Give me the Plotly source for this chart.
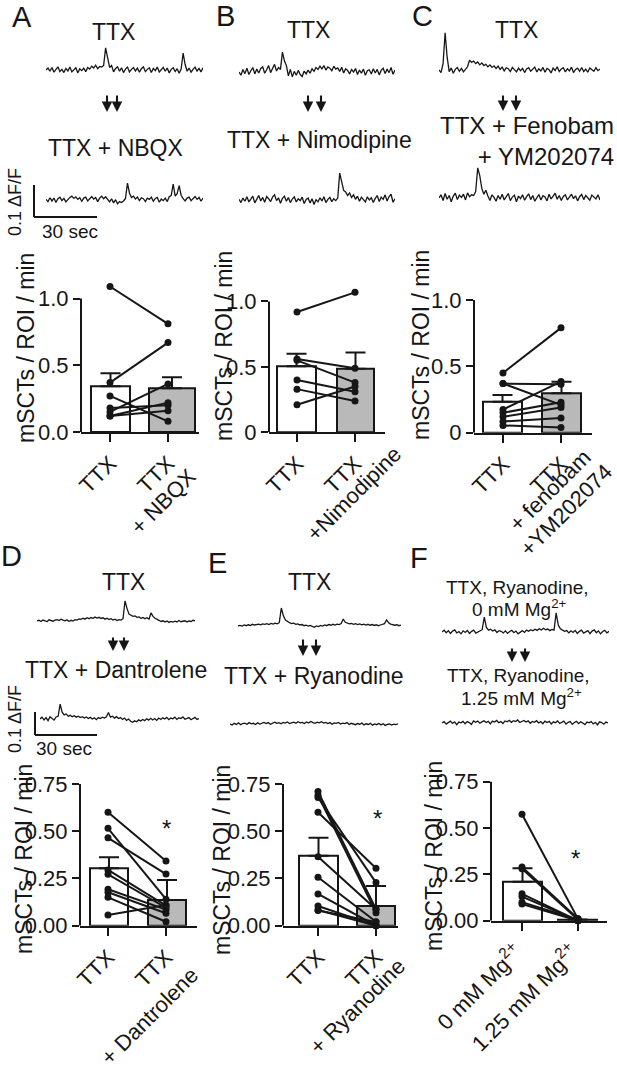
import plotly.graph_objects as go

W, H = 617, 1070
FONT = "Liberation Sans, Arial, Helvetica, sans-serif"
INK = "#161616"
GRAY = "#b9b9b9"

# ====================== DATA ======================
# Representative Ca2+ traces, dF/F x 1000, one value per sample
trace_A_ttx = [0, 6, -4, 8, -7, 3, 10, -5, 2, -8, 5, -3, 9, -6, 1, 7, -9, 4, -2, 6,
               -5, 8, 3, 12, 6, 15, 4, 11, 9, 14, 69, 40, 8, 14, -6, 5, 10, -4, 7, -8,
               3, 9, -6, 2, 8, -3, 6, -7, 4, 10, -5, 2, 7, -8, 5, -2, 9, -6, 3, 8,
               -4, 6, -9, 2, 7, -5, 4, -10, 3, 53, 18, -4, 6, -7, 2, 9, -3, 5, -6, 7]
trace_A_drug = [2, -5, 7, -3, 6, -8, 4, 9, -2, 5, -6, 3, 8, 12, 5, 10, 2, 7, -4, 6,
                9, -3, 5, 11, 3, 8, -5, 6, 12, 4, 10, 2, -6, 4, -9, 1, -12, -5, -8, -3,
                5, 53, 22, 8, 12, 3, 9, -2, 7, 4, -5, 6, 2, 9, -4, 5, 8, -7, 3, -2,
                6, -5, 10, 14, 50, 12, 20, 45, 15, 4, -3, 6, 9, -2, 5, 11, 2, 8, -4, 6]
trace_B_ttx = [0, -10, 8, -5, 12, -8, 4, 14, -6, 9, -3, 11, 16, -4, 7, 20, -2, 10, 24, 3,
               14, 8, 62, 35, 20, -12, 8, -15, 2, -10, 5, -8, -14, 3, -6, 6, -4, 10, 2, 14,
               8, 18, 10, 20, 6, 16, 12, 4, 18, 9, 13, 2, 15, -3, 10, 5, -6, 8, 0, 11,
               -8, 6, -4, 9, -10, 4, 7, -6, 10, -3, 8, -9, 5, 12, -5, 9, -2, 14, -7, 6]
trace_B_drug = [2, -8, 6, -4, 10, -6, 3, 12, -9, 5, 14, -3, 8, -7, 11, 4, -5, 9, 16, -2,
                7, -10, 5, 12, -4, 8, -8, 3, 10, -6, 4, -2, 9, -11, 2, 6, -9, 4, -14, 1,
                -6, 7, -3, 10, -8, 2, 8, -5, 4, -2, 6, 84, 60, 30, 25, 14, 22, 8, 16, 2,
                12, -4, 9, 3, -6, 10, 0, 7, -8, 5, 14, -5, 9, 2, 16, -3, 11, 18, -7, 4]
trace_C_ttx = [0, -8, 20, 116, 40, -5, 6, -10, 2, 8, -4, 5, -6, 3, 10, 31, 24, 28, 20, 25,
               16, 22, 14, 18, 10, 16, 8, 13, 5, 12, 2, 9, -3, 7, 4, -5, 8, 1, -6, 6,
               -2, 5, -8, 3, 7, -4, 2, 9, -6, 4, -3, 8, -7, 5, 1, -9, 6, -2, 10, -5,
               3, 7, -6, 4, -3, 9, -8, 2, 6, -4, 8, -5, 3, -7, 6, 1, -4, 7, -2, 3]
trace_C_drug = [0, 10, -8, 14, -4, 8, -12, 6, 15, -5, 9, 2, 12, -6, 16, 4, 10, 8, 20, 94,
                70, 30, 12, 24, 6, -8, 10, 2, -10, 8, -4, 12, -6, 5, 14, -8, 3, 9, -12, 6,
                -2, 10, -7, 4, 13, -5, 8, -10, 2, 11, -6, 7, 3, -9, 12, -3, 6, 15, -4, 8,
                -8, 5, 10, -6, 3, 12, -2, 7, -9, 4, 11, -5, 8, 2, -7, 9, 4, -3, 10, -6]
trace_D_ttx = [0, 3, -2, 4, 1, -3, 5, 2, -1, 4, 6, 2, 8, 4, 1, 5, -2, 3, 0, 6,
               4, 9, 7, 12, 8, 14, 10, 15, 12, 17, 13, 16, 11, 14, 8, 12, 6, 10, 4, 8,
               2, 6, 4, 10, 87, 55, 30, 25, 20, 22, 16, 18, 12, 15, 10, 14, 8, 35, 20, 12,
               6, 3, -2, 1, -4, 0, -6, -2, -5, -1, -4, 2, -3, -1, 1, -4, 0, -2, 3, 1]
trace_D_drug = [0, 8, -4, 6, -7, 10, 2, -5, 9, 12, 65, 30, 18, 22, 12, 16, 10, 14, 8, 12,
                6, 10, 4, 9, 2, 7, 0, 5, -3, 6, 2, 8, 4, 10, 28, 8, 12, 4, 10, 2,
                6, -2, 4, -6, 0, -10, -14, -8, -12, -4, -9, -2, -7, 1, -5, 3, -4, 2, -6, 4,
                -2, 5, 0, 7, -3, 4, 1, 8, -2, 5, 2, 9, -1, 4, 6, -3, 3, 7, -2, 2]
trace_E_ttx = [-4, -2, -5, 0, -3, 1, -2, 3, 0, 2, 4, 1, 5, 3, 6, 2, 7, 4, 8, 5,
               10, 74, 40, 22, 15, 10, 6, 8, 3, 5, 0, 2, -3, -1, -5, -2, -6, -10, -4, -7,
               -2, -5, 0, -3, 2, -1, 3, 0, 4, 2, 6, 26, 12, 8, 5, 7, 3, 6, 2, 5,
               1, 4, 0, 3, -1, 2, -2, 1, -3, 0, 2, 6, 22, 10, 4, 2, -1, 1, -3, 0]
trace_E_drug = [0, -4, 3, -2, 5, -3, 2, 4, -1, 6, 1, 3, -2, 5, 0, 4, 7, 2, 6, -1,
                5, 8, 3, 6, 1, 7, 4, 9, 2, 6, 8, 3, 10, 5, 7, 2, 9, 4, 11, 6,
                3, 8, 5, 10, 4, 7, 2, 6, -1, 5, 3, 7, 0, 4, 2, 6, -2, 3, 1, -3,
                2, -1, 4, -4, 1, -2, 3, -5, 0, -3, 2, -4, 1, -6, -2, 0, -5, -1, -3, 1]
trace_F_0mg = [0, 8, -3, 6, -6, 4, 9, -4, 2, -8, 5, -2, 7, -6, 3, 8, -5, 1, 6, 10,
               65, 20, 8, 12, 4, 9, -2, 6, 3, -4, 5, -6, 2, 7, -3, 4, -8, 1, 6, -2,
               8, 3, 10, 5, 12, 7, 14, 9, 16, 10, 13, 6, 11, 8, 83, 30, 14, 8, 3, 6,
               -4, 5, -2, 7, -6, 3, 8, -5, 2, 6, -7, 4, 9, -3, 5, -8, 2, 7, -4, 3]
trace_F_125mg = [0, 6, -5, 3, 8, -2, 5, -7, 4, 1, 7, -3, 6, 2, -6, 9, 3, 8, -1, 5,
                 10, 2, 7, -4, 8, 4, 11, 1, 6, -2, 9, 5, 12, 3, 10, 6, 13, 2, 8, 11,
                 4, 9, -1, 7, 3, 10, 0, 6, -3, 8, 2, 7, -4, 5, 1, 9, -2, 4, 8, -5,
                 3, 6, -6, 2, 7, -3, 5, 0, -7, 4, 1, 6, -4, 3, -8, 5, 2, -5, 4, 0]

# Bar panels: mSCTs / ROI / min (mean, SEM, paired per-experiment values)
labels_A = ["TTX", "TTX<br>+ NBQX"]
mean_A = [0.343, 0.328]
sem_A = [0.097, 0.082]
pre_A = [1.09, 0.37, 0.27, 0.18, 0.15, 0.12, 0.12]
post_A = [0.81, 0.67, 0.08, 0.20, 0.36, 0.22, 0.16]
yticks_A = [0, 0.5, 1.0]
yticktext_A = ["0.0", "0.5", "1.0"]

labels_B = ["TTX", "TTX<br>+Nimodipine"]
mean_B = [0.505, 0.485]
sem_B = [0.095, 0.125]
pre_B = [0.92, 0.56, 0.55, 0.40, 0.33, 0.21]
post_B = [1.07, 0.49, 0.38, 0.31, 0.24, 0.35]
yticks_B = [0, 0.5, 1.0]
yticktext_B = ["0", "0.5", "1.0"]

labels_C = ["TTX", "TTX<br>+ fenobam<br>+YM202074"]
mean_C = [0.234, 0.297]
sem_C = [0.05, 0.087]
pre_C = [0.45, 0.37, 0.37, 0.175, 0.15, 0.12, 0.085, 0.055]
post_C = [0.79, 0.365, 0.21, 0.385, 0.23, 0.19, 0.11, 0.04]
yticks_C = [0, 0.5, 1.0]
yticktext_C = ["0", "0.5", "1.0"]

labels_D = ["TTX", "TTX<br>+ Dantrolene"]
mean_D = [0.304, 0.136]
sem_D = [0.058, 0.106]
pre_D = [0.60, 0.515, 0.465, 0.295, 0.272, 0.193, 0.177, 0.15, 0.057]
post_D = [0.342, 0.14, 0.273, 0.106, 0.095, 0.085, 0.066, 0.021, 0.11]
yticks_D = [0, 0.25, 0.5, 0.75]
yticktext_D = ["0.00", "0.25", "0.50", "0.75"]

labels_E = ["TTX", "TTX<br>+ Ryanodine"]
mean_E = [0.37, 0.104]
sem_E = [0.096, 0.106]
pre_E = [0.71, 0.69, 0.678, 0.60, 0.365, 0.256, 0.168, 0.104, 0.083, 0.08]
post_E = [0.087, 0.069, 0.228, 0.304, 0.087, 0.021, 0.0, 0.0, 0.0, 0.02]
yticks_E = [0, 0.25, 0.5, 0.75]
yticktext_E = ["0.00", "0.25", "0.50", "0.75"]

labels_F = ["0 mM Mg<sup>2+</sup>", "1.25 mM Mg<sup>2+</sup>"]
mean_F = [0.21, 0.005]
sem_F = [0.073, 0.002]
pre_F = [0.575, 0.29, 0.28, 0.145, 0.13, 0.10, 0.09]
post_F = [0.01, 0.01, 0.005, 0.0, 0.0, 0.005, 0.0]
yticks_F = [0, 0.25, 0.5, 0.75]
yticktext_F = ["0.00", "0.25", "0.50", "0.75"]

# ====================== LAYOUT HELPERS ======================
def fx(px):
    return px / W

def fy(py):
    return 1 - py / H

fig = go.Figure()
layout = {}
shapes = []
annotations = []
count = [0]

def new_axes():
    count[0] += 1
    i = count[0]
    s = "" if i == 1 else str(i)
    return i, "x" + s, "y" + s, "xaxis" + s, "yaxis" + s

def text(t, x, y, size=23, angle=0, xanchor="center", align="center"):
    annotations.append(dict(text=t, x=fx(x), y=fy(y), xref="paper", yref="paper",
                            showarrow=False, xanchor=xanchor, yanchor="middle",
                            align=align, textangle=angle, borderpad=0,
                            font=dict(family=FONT, size=size, color=INK)))

# ---- fluorescence traces: (values, left px, right px, baseline px, px per unit)
trace_specs = [
    (trace_A_ttx, 46, 203, 70, 0.32),
    (trace_A_drug, 46, 203, 200, 0.32),
    (trace_B_ttx, 239, 395, 72, 0.32),
    (trace_B_drug, 239, 395, 200, 0.32),
    (trace_C_ttx, 439, 600, 70, 0.32),
    (trace_C_drug, 439, 600, 198, 0.32),
    (trace_D_ttx, 37, 195, 621, 0.23),
    (trace_D_drug, 40, 199, 719, 0.23),
    (trace_E_ttx, 238, 401, 625, 0.23),
    (trace_E_drug, 230, 398, 724, 0.23),
    (trace_F_0mg, 442, 609, 632, 0.23),
    (trace_F_125mg, 442, 608, 723, 0.23),
]
LO, HI = -60, 140
for vals, x0, x1, base, s in trace_specs:
    i, xa, ya, xk, yk = new_axes()
    t = list(range(len(vals)))
    fig.add_trace(go.Scatter(x=t, y=vals, mode="lines",
                             line=dict(color=INK, width=1.3),
                             xaxis=xa, yaxis=ya, hoverinfo="skip"))
    layout[xk] = dict(domain=[fx(x0), fx(x1)], range=[0, len(vals) - 1],
                      visible=False, anchor=ya, fixedrange=True, automargin=False)
    layout[yk] = dict(domain=[fy(base - LO * s), fy(base - HI * s)],
                      range=[LO, HI], visible=False, anchor=xa, fixedrange=True,
                      automargin=False)

# ---- bar panels
bar_panels = [
    # data, x-axis left/right px, tick0/tick1 px, zero px, px per unit, bar extents (px),
    # centres (px) of the extra rotated lines of the second category label, label shift
    (labels_A, mean_A, sem_A, pre_A, post_A, yticks_A, yticktext_A,
     81, 199, 110, 168, 432, 133.5, [(91, 130), (149, 195)], [(163, 501)], 0),
    (labels_B, mean_B, sem_B, pre_B, post_B, yticks_B, yticktext_B,
     269, 385, 297, 355, 432.3, 130.8, [(277, 316), (337, 374)], [(354, 493)], 0),
    (labels_C, mean_C, sem_C, pre_C, post_C, yticks_C, yticktext_C,
     474, 592, 503, 561, 432.7, 132.7, [(483, 522), (542, 581)], [(550, 491), (566, 511)], 0),
    (labels_D, mean_D, sem_D, pre_D, post_D, yticks_D, yticktext_D,
     80, 197, 108, 166, 925.7, 189, [(90, 128), (148, 186)], [(149, 1016)], 0),
    (labels_E, mean_E, sem_E, pre_E, post_E, yticks_E, yticktext_E,
     283, 398, 318, 376, 925.7, 189, [(299, 338), (357, 395)], [(357, 1006)], 0),
    (labels_F, mean_F, sem_F, pre_F, post_F, yticks_F, yticktext_F,
     491, 607, 522, 578, 920.7, 185.3, [(503, 542), (558, 597)], [], -6),
]
for (labels, mean, sem, pre, post, yt, ytt, xl, xr, t0, t1, y0, ppu, bars, extra_pos,
     lshift) in bar_panels:
    i, xa, ya, xk, yk = new_axes()
    unit = t1 - t0
    xrange_ = [(xl - t0) / unit, (xr - t0) / unit]
    ytop = max(max(pre), max(post), max(m + e for m, e in zip(mean, sem)), yt[-1]) * 1.08
    for k, (m, e) in enumerate(zip(mean, sem)):
        bx0, bx1 = bars[k]
        tick_px = t0 if k == 0 else t1
        fig.add_trace(go.Bar(
            x=[k], y=[m], width=[(bx1 - bx0) / unit], offset=[(bx0 - tick_px) / unit],
            marker=dict(color="white" if k == 0 else GRAY, line=dict(color=INK, width=2)),
            error_y=dict(type="data", symmetric=False, array=[e], arrayminus=[0],
                         color=INK, thickness=2, width=10),
            xaxis=xa, yaxis=ya, hoverinfo="skip"))
    xs, ys = [], []
    for a, b in zip(pre, post):
        xs += [0, 1, None]
        ys += [a, b, None]
    fig.add_trace(go.Scatter(x=xs, y=ys, mode="lines+markers",
                             line=dict(color=INK, width=2),
                             marker=dict(size=7, color=INK),
                             cliponaxis=False, xaxis=xa, yaxis=ya, hoverinfo="skip"))
    # first line of each category label is the tick label; further lines are rotated text
    first_lines = [lab.split("<br>")[0] for lab in labels]
    extra_lines = labels[1].split("<br>")[1:]
    for line_text, (cx, cy) in zip(extra_lines, extra_pos):
        text(line_text, cx, cy, size=22, angle=-45)
    layout[xk] = dict(domain=[fx(xl), fx(xr)], range=xrange_, anchor=ya,
                      tickvals=[0, 1], ticktext=first_lines, tickangle=-45,
                      ticklabelshift=lshift,
                      ticks="outside", ticklen=8, tickwidth=2, tickcolor=INK,
                      showline=True, linewidth=2, linecolor=INK,
                      showgrid=False, zeroline=False, fixedrange=True, automargin=False,
                      tickfont=dict(family=FONT, size=22, color=INK))
    layout[yk] = dict(domain=[fy(y0), fy(y0 - ytop * ppu)], range=[0, ytop], anchor=xa,
                      tickvals=yt, ticktext=ytt, ticks="outside", ticklen=7,
                      tickwidth=2, tickcolor=INK, showline=False, showgrid=False,
                      zeroline=False, fixedrange=True, automargin=False,
                      tickfont=dict(family=FONT, size=22, color=INK))
    shapes.append(dict(type="line", xref=xa + " domain", yref=ya, x0=0, x1=0,
                       y0=0, y1=yt[-1], line=dict(color=INK, width=2)))

# ---- text
for letter, x, y in [("A", 22, 17), ("B", 225, 16), ("C", 422, 16),
                     ("D", 11, 556), ("E", 217, 563), ("F", 419, 558)]:
    text(letter, x, y, size=29)

text("TTX", 113, 32)
text("TTX + NBQX", 115, 148)
text("TTX", 308, 30)
text("TTX + Nimodipine", 319, 140)
text("TTX", 516, 30)
text("TTX + Fenobam<br>+ YM202074", 615, 141, size=24, xanchor="right", align="right")
text("TTX", 123, 582)
text("TTX + Dantrolene", 116, 670)
text("TTX", 309, 582)
text("TTX + Ryanodine", 314, 676)
text("TTX, Ryanodine,", 517, 587, size=19)
text("0 mM Mg<sup>2+</sup>", 519, 608, size=19)
text("TTX, Ryanodine,", 518, 675, size=19)
text("1.25 mM Mg<sup>2+</sup>", 521, 697, size=19)

for x, y in [(26, 348), (224, 346), (421, 345), (24, 859), (222, 860), (434, 856)]:
    text("mSCTs / ROI / min", x, y, size=23, angle=-90)

for x, y in [(166, 828), (377, 818), (575, 858)]:
    text("*", x, y, size=24)

# scale bars
text("0.1 \u0394F/F", 15, 202, size=18, angle=-90)
text("30 sec", 70, 232, size=19)
text("0.1 \u0394F/F", 15, 719, size=18, angle=-90)
text("30 sec", 64, 748, size=19)
for (vx, vy0, vy1, hx1) in [(34, 185, 217, 97), (35, 712, 735, 97)]:
    shapes.append(dict(type="line", xref="paper", yref="paper",
                       x0=fx(vx), x1=fx(vx), y0=fy(vy0), y1=fy(vy1),
                       line=dict(color=INK, width=2)))
    shapes.append(dict(type="line", xref="paper", yref="paper",
                       x0=fx(vx), x1=fx(hx1), y0=fy(vy1), y1=fy(vy1),
                       line=dict(color=INK, width=2)))

# double arrows
for (xa1, xa2, ys, ye) in [(107, 117, 94, 112), (308, 321, 94, 112), (503, 516, 94, 111),
                           (113, 124, 636, 651), (303, 316, 638, 656), (512, 525, 647, 662)]:
    for xa_ in (xa1, xa2):
        annotations.append(dict(x=fx(xa_), y=fy(ye), xref="paper", yref="paper",
                                ax=0, ay=-(ye - ys), text="", showarrow=True,
                                arrowhead=2, arrowsize=1.0, arrowwidth=2.1,
                                arrowcolor=INK))

fig.update_layout(**layout)
fig.update_layout(width=W, height=H, margin=dict(l=0, r=0, t=0, b=0),
                  paper_bgcolor="white", plot_bgcolor="rgba(0,0,0,0)",
                  showlegend=False, barmode="overlay",
                  font=dict(family=FONT, color=INK),
                  shapes=shapes, annotations=annotations)
fig.write_html("out.html", config={"displayModeBar": False, "staticPlot": True},
               post_script="document.body.style.margin='0';document.body.style.overflow='hidden';")
